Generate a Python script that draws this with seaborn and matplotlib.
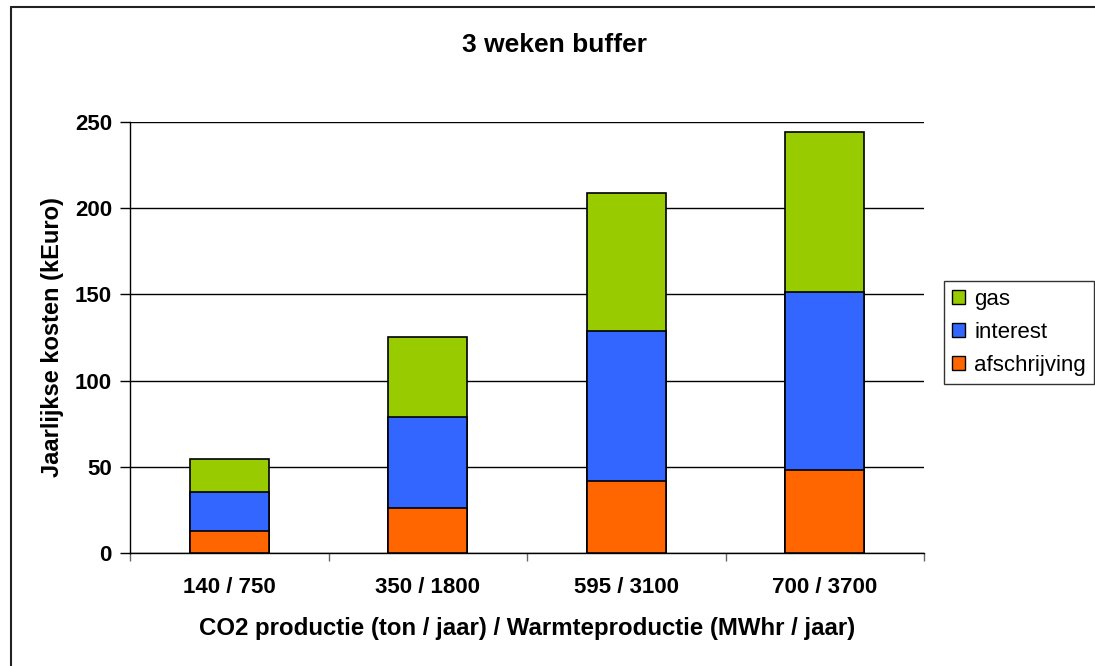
import pandas as pd
import matplotlib
matplotlib.use("Agg")
import matplotlib.pyplot as plt
import seaborn as sns
from matplotlib.patches import Patch
from matplotlib.lines import Line2D

categories = ['140 / 750', '350 / 1800', '595 / 3100', '700 / 3700']
afschrijving = [12.5, 26, 41.5, 48]
interest = [23, 53, 87.3, 103.5]
gas = [19, 46.5, 79.8, 92.5]

kleuren = {'gas': '#99CC00', 'interest': '#3366FF', 'afschrijving': '#FF6600'}

sns.set_style("white")
plt.rcParams['font.family'] = ['Liberation Sans', 'DejaVu Sans']
plt.rcParams['text.color'] = 'black'
plt.rcParams['axes.labelcolor'] = 'black'
plt.rcParams['xtick.color'] = 'black'
plt.rcParams['ytick.color'] = 'black'

df = pd.DataFrame({'cat': categories, 'afschrijving': afschrijving,
                   'interest': interest, 'gas': gas})
df['t_interest'] = df['afschrijving'] + df['interest']
df['t_gas'] = df['t_interest'] + df['gas']

fig = plt.figure(figsize=(10.95, 6.66), dpi=100)
ax = fig.add_axes([130 / 1095, 113 / 666, 794 / 1095, 431 / 666])

# gestapeld: eerst totaal, dan de lagere lagen eroverheen
for kol, naam in [('t_gas', 'gas'), ('t_interest', 'interest'), ('afschrijving', 'afschrijving')]:
    sns.barplot(data=df, x='cat', y=kol, order=categories, color=kleuren[naam],
                width=0.4, edgecolor='black', linewidth=1.2, saturation=1, ax=ax, zorder=3)

ax.set_xlim(-0.5, 3.5)
ax.set_ylim(0, 250)
ax.set_yticks([0, 50, 100, 150, 200, 250])
ax.yaxis.grid(True, color='black', linewidth=1)
ax.set_axisbelow(True)
for s in ['top', 'right']:
    ax.spines[s].set_visible(False)
for s in ['left', 'bottom']:
    ax.spines[s].set_color('black')
    ax.spines[s].set_linewidth(1)

ax.set_xticks([-0.5, 0.5, 1.5, 2.5, 3.5], minor=True)
ax.tick_params(axis='x', which='major', bottom=True, length=0, pad=17, labelsize=16,
               labelcolor='black')
ax.tick_params(axis='x', which='minor', bottom=True, length=6, width=1, color='#666666',
               direction='out')
ax.tick_params(axis='y', length=7, width=1, color='black', direction='out', left=True,
               pad=6, labelsize=16, labelcolor='black')
for lbl in ax.get_xticklabels() + ax.get_yticklabels():
    lbl.set_fontweight('bold')

ax.set_xlabel('CO2 productie (ton / jaar) / Warmteproductie (MWhr / jaar)',
              fontsize=17.3, fontweight='bold', labelpad=14, color='black')
ax.set_ylabel('Jaarlijkse kosten (kEuro)', fontsize=17, fontweight='bold', labelpad=8,
              color='black')

fig.text(554 / 1095, 1 - 45 / 666, '3 weken buffer', ha='center', va='center',
         fontsize=19, fontweight='bold', color='black')

handles = [Patch(facecolor=kleuren[n], edgecolor='black', linewidth=1, label=n)
           for n in ['gas', 'interest', 'afschrijving']]
leg = fig.legend(handles=handles, loc='upper left', bbox_to_anchor=(944 / 1095, 1 - 281 / 666),
                 frameon=True, fancybox=False, fontsize=16, handlelength=0.6, handleheight=0.6,
                 handletextpad=0.4, labelspacing=0.55, borderpad=0.35, borderaxespad=0)
leg.get_frame().set_edgecolor('black')
leg.get_frame().set_linewidth(1)
for t in leg.get_texts():
    t.set_color('black')

# kader rond de figuur (rechts en onder buiten beeld)
fig.add_artist(Line2D([11 / 1095, 1.0], [1 - 7 / 666, 1 - 7 / 666], color='#222222',
                      linewidth=1.5, transform=fig.transFigure))
fig.add_artist(Line2D([11 / 1095, 11 / 1095], [0, 1 - 7 / 666], color='#222222',
                      linewidth=1.5, transform=fig.transFigure))

fig.savefig('out.png', dpi=100)
